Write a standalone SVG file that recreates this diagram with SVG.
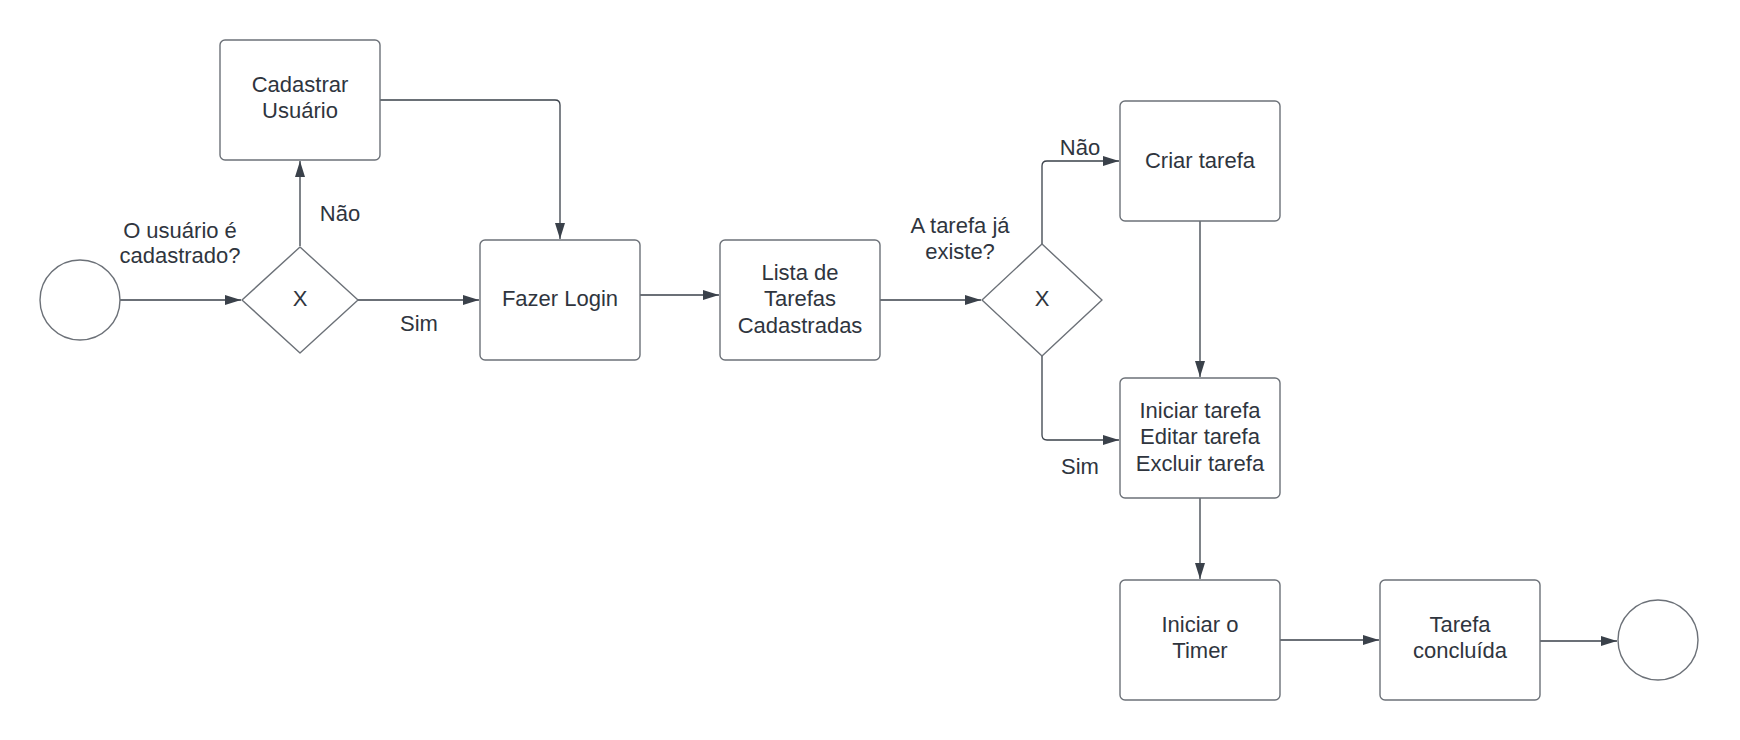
<svg xmlns="http://www.w3.org/2000/svg" width="1740" height="740" viewBox="0 0 1740 740">
<defs>
<style>
.node{fill:#ffffff;stroke:#6c7178;stroke-width:1.4}
.line{fill:none;stroke:#3a414a;stroke-width:1.3}
text{font-family:"Liberation Sans",Arial,sans-serif;font-size:22px;fill:#2f353e;text-anchor:middle}
</style>
<marker id="arr" markerUnits="userSpaceOnUse" markerWidth="16" markerHeight="10" refX="16" refY="5" orient="auto">
<path d="M0,0 L16,5 L0,10 z" fill="#3a414a"/>
</marker>
</defs>
<rect width="1740" height="740" fill="#ffffff"/>
<g id="connectors">
<path class="line" d="M120,300 H241" marker-end="url(#arr)"/>
<path class="line" d="M300,246 V161" marker-end="url(#arr)"/>
<path class="line" d="M358,300 H479" marker-end="url(#arr)"/>
<path class="line" d="M380,100 H555 Q560,100 560,105 V239" marker-end="url(#arr)"/>
<path class="line" d="M640,295 H719" marker-end="url(#arr)"/>
<path class="line" d="M880,300 H981" marker-end="url(#arr)"/>
<path class="line" d="M1042,244 V166 Q1042,161 1047,161 H1119" marker-end="url(#arr)"/>
<path class="line" d="M1042,356 V435 Q1042,440 1047,440 H1119" marker-end="url(#arr)"/>
<path class="line" d="M1200,221 V377" marker-end="url(#arr)"/>
<path class="line" d="M1200,498 V579" marker-end="url(#arr)"/>
<path class="line" d="M1280,640 H1379" marker-end="url(#arr)"/>
<path class="line" d="M1540,641 H1617" marker-end="url(#arr)"/>
<text x="180" y="238">O usuário é</text>
<text x="180" y="263">cadastrado?</text>
<text x="340" y="221">Não</text>
<text x="419" y="331">Sim</text>
<text x="960" y="233">A tarefa já</text>
<text x="960" y="259">existe?</text>
<text x="1080" y="155">Não</text>
<text x="1080" y="474">Sim</text>
</g>
<g id="start">
<circle class="node" cx="80" cy="300" r="40"/>
</g>
<g id="gateway1">
<path class="node" stroke-linejoin="round" d="M300,247 L358,300 L300,353 L242,300 Z"/>
<text x="300" y="306">X</text>
</g>
<g id="cadastrar">
<rect class="node" x="220" y="40" width="160" height="120" rx="5"/>
<text x="300" y="92">Cadastrar</text>
<text x="300" y="118">Usuário</text>
</g>
<g id="login">
<rect class="node" x="480" y="240" width="160" height="120" rx="5"/>
<text x="560" y="306">Fazer Login</text>
</g>
<g id="lista">
<rect class="node" x="720" y="240" width="160" height="120" rx="5"/>
<text x="800" y="280">Lista de</text>
<text x="800" y="306">Tarefas</text>
<text x="800" y="333">Cadastradas</text>
</g>
<g id="gateway2">
<path class="node" stroke-linejoin="round" d="M1042,244 L1102,300 L1042,356 L982,300 Z"/>
<text x="1042" y="306">X</text>
</g>
<g id="criar">
<rect class="node" x="1120" y="101" width="160" height="120" rx="5"/>
<text x="1200" y="168">Criar tarefa</text>
</g>
<g id="acoes">
<rect class="node" x="1120" y="378" width="160" height="120" rx="5"/>
<text x="1200" y="418">Iniciar tarefa</text>
<text x="1200" y="444">Editar tarefa</text>
<text x="1200" y="471">Excluir tarefa</text>
</g>
<g id="timer">
<rect class="node" x="1120" y="580" width="160" height="120" rx="5"/>
<text x="1200" y="632">Iniciar o</text>
<text x="1200" y="658">Timer</text>
</g>
<g id="concluida">
<rect class="node" x="1380" y="580" width="160" height="120" rx="5"/>
<text x="1460" y="632">Tarefa</text>
<text x="1460" y="658">concluída</text>
</g>
<g id="end">
<circle class="node" cx="1658" cy="640" r="40"/>
</g>
</svg>
